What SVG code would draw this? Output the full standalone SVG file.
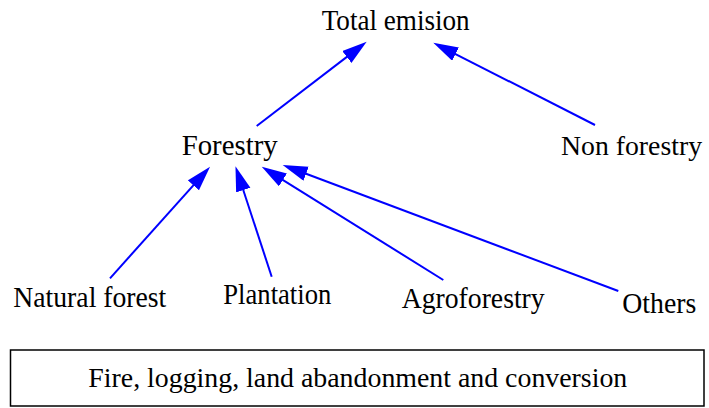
<svg xmlns="http://www.w3.org/2000/svg" width="709" height="408" viewBox="0 0 709 408">
<style>
.t{font-family:"Liberation Serif","Times New Roman",serif;font-size:30px;fill:#000}
.b{font-size:28px}
.c{stroke:#0000FF;stroke-width:2;fill:none}
</style>
<defs>
<marker id="ah" markerUnits="userSpaceOnUse" markerWidth="26" markerHeight="16" refX="5" refY="7.5" orient="auto" viewBox="0 0 26 16">
<path d="M0,0 L25,7.5 L0,15 z" fill="#0000FF"/>
</marker>
</defs>
<rect width="709" height="408" fill="#fff"/>
<g id="connectors">
<line class="c" x1="256.7" y1="126" x2="350.8" y2="53.9" marker-end="url(#ah)"/>
<line class="c" x1="595" y1="125" x2="451.1" y2="51.8" marker-end="url(#ah)"/>
<line class="c" x1="110" y1="278.3" x2="196.7" y2="181.6" marker-end="url(#ah)"/>
<line class="c" x1="271.7" y1="276.7" x2="241.7" y2="185.3" marker-end="url(#ah)"/>
<line class="c" x1="443.3" y1="280" x2="278.7" y2="177.3" marker-end="url(#ah)"/>
<line class="c" x1="618.3" y1="291" x2="301.4" y2="172" marker-end="url(#ah)"/>
</g>
<g id="total"><text class="t" x="321.7" y="30" textLength="148" lengthAdjust="spacingAndGlyphs">Total emision</text></g>
<g id="forestry"><text class="t" x="181.7" y="155" textLength="96" lengthAdjust="spacingAndGlyphs">Forestry</text></g>
<g id="nonforestry"><text class="t b" x="561" y="155" textLength="141" lengthAdjust="spacingAndGlyphs">Non forestry</text></g>
<g id="natural"><text class="t" x="13.3" y="306.7" textLength="153" lengthAdjust="spacingAndGlyphs">Natural forest</text></g>
<g id="plantation"><text class="t" x="223.3" y="304" textLength="108" lengthAdjust="spacingAndGlyphs">Plantation</text></g>
<g id="agroforestry"><text class="t" x="401.7" y="308.3" textLength="143" lengthAdjust="spacingAndGlyphs">Agroforestry</text></g>
<g id="others"><text class="t" x="622.3" y="313.3" textLength="74" lengthAdjust="spacingAndGlyphs">Others</text></g>
<g id="drivers">
<rect x="10.5" y="350" width="693.5" height="56" fill="none" stroke="#000" stroke-width="1.5"/>
<text class="t b" x="88.3" y="386.7" textLength="539" lengthAdjust="spacingAndGlyphs">Fire, logging, land abandonment and conversion</text>
</g>
</svg>
